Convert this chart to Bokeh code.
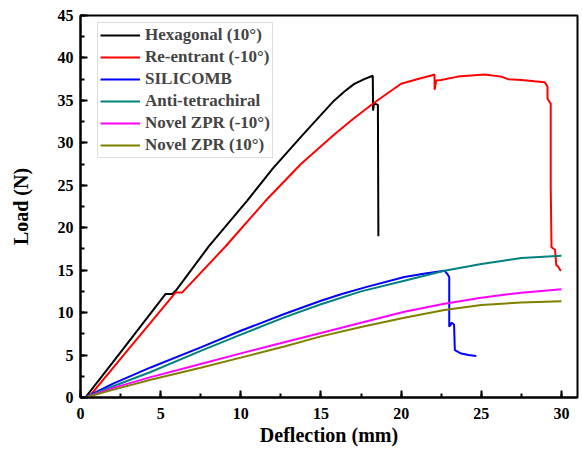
from bokeh.plotting import figure
from bokeh.models import Range1d, SingleIntervalTicker
from bokeh.embed import file_html
from bokeh.resources import INLINE

# ---- data ----
hex_x = [0.3, 2.0, 4.0, 5.31, 5.73, 5.95, 8.0, 10.4, 12.0, 13.75, 15.0, 15.83, 16.5, 17.08, 17.7, 18.23, 18.25, 18.3, 18.55, 18.58]
hex_y = [0.0, 4.1, 9.0, 12.2, 12.2, 12.6, 17.8, 23.2, 27.0, 30.7, 33.3, 35.0, 36.1, 36.95, 37.5, 37.9, 33.8, 34.6, 34.5, 19.0]

re_x = [0.5, 3.0, 5.94, 6.35, 9.0, 11.56, 13.75, 15.83, 17.0, 18.23, 19.2, 20.0, 21.0, 21.875, 22.08, 22.09, 22.19, 22.5,
        23.54, 25.2, 26.25, 26.67, 27.5, 28.33, 28.96, 29.13, 29.13, 29.33, 29.33, 29.38, 29.6, 29.65, 29.68, 29.8, 29.96]
re_y = [0.0, 5.7, 12.38, 12.38, 17.7, 23.2, 27.5, 30.98, 32.8, 34.6, 35.9, 36.96, 37.5, 37.94, 38.05, 36.25, 37.35, 37.4,
        37.8, 38.05, 37.8, 37.5, 37.4, 37.25, 37.15, 36.6, 35.2, 34.6, 24.8, 17.7, 17.4, 16.2, 15.6, 15.4, 14.9]

sil_x = [0.3, 2.0, 4.375, 7.5, 10.0, 12.71, 15.0, 16.3, 17.8, 20.2, 21.5, 22.7, 22.9, 23.0, 23.0, 23.1, 23.15, 23.3, 23.35, 23.75, 24.2, 24.69]
sil_y = [0.0, 1.6, 3.54, 5.9, 7.86, 9.83, 11.4, 12.2, 13.0, 14.2, 14.6, 14.94, 14.5, 14.2, 8.34, 8.6, 8.8, 8.6, 5.58, 5.18, 5.0, 4.9]

anti_x = [0.3, 2.0, 4.375, 7.5, 10.0, 12.71, 15.0, 17.5, 20.2, 22.7, 25.0, 27.5, 30.0]
anti_y = [0.0, 1.3, 3.0, 5.5, 7.4, 9.44, 10.98, 12.5, 13.76, 14.94, 15.73, 16.43, 16.71]

zprn_x = [0.3, 2.0, 4.375, 7.5, 10.0, 12.71, 15.0, 17.5, 20.2, 22.7, 25.0, 27.5, 30.0]
zprn_y = [0.0, 1.1, 2.4, 3.95, 5.2, 6.5, 7.6, 8.8, 10.1, 11.05, 11.75, 12.35, 12.75]

zprp_x = [0.3, 2.0, 4.375, 7.5, 10.0, 12.71, 15.0, 17.5, 20.2, 22.7, 25.0, 27.5, 30.0]
zprp_y = [0.0, 0.9, 2.1, 3.5, 4.7, 6.0, 7.2, 8.3, 9.4, 10.3, 10.9, 11.2, 11.35]

series = [
    ("Hexagonal (10°)", hex_x, hex_y, "#000000"),
    ("Re-entrant (-10°)", re_x, re_y, "#FF0000"),
    ("SILICOMB", sil_x, sil_y, "#0000FF"),
    ("Anti-tetrachiral", anti_x, anti_y, "#008080"),
    ("Novel ZPR (-10°)", zprn_x, zprn_y, "#FF00FF"),
    ("Novel ZPR (10°)", zprp_x, zprp_y, "#808000"),
]

FONT = "Liberation Serif"

p = figure(width=582, height=452, output_backend="svg", toolbar_location=None,
           x_range=Range1d(0, 31), y_range=Range1d(0, 45),
           min_border_left=80, min_border_right=5, min_border_top=15, min_border_bottom=55)

for name, xs, ys, col in series:
    p.line(xs, ys, line_color=col, line_width=2, legend_label=name)

p.grid.visible = False
p.outline_line_color = "black"
p.outline_line_width = 2

for ax in (p.xaxis[0], p.yaxis[0]):
    ax.ticker = SingleIntervalTicker(interval=5, num_minor_ticks=2)
    ax.axis_line_width = 2
    ax.major_tick_line_width = 2
    ax.minor_tick_line_width = 2
    ax.major_tick_in = 7
    ax.major_tick_out = 0
    ax.minor_tick_in = 4
    ax.minor_tick_out = 0
    ax.major_label_text_font = FONT
    ax.major_label_text_font_style = "bold"
    ax.major_label_text_font_size = "16px"
    ax.major_label_text_color = "black"
    ax.axis_label_text_font = FONT
    ax.axis_label_text_font_style = "bold"
    ax.axis_label_text_font_size = "20px"
    ax.axis_label_text_color = "black"

p.xaxis.axis_label = "Deflection (mm)"
p.yaxis.axis_label = "Load (N)"
p.xaxis.major_label_standoff = 10
p.xaxis.axis_label_standoff = 2
p.yaxis.major_label_standoff = 7
p.yaxis.axis_label_standoff = 23

lg = p.legend[0]
lg.location = (17, 239)
lg.label_text_font = FONT
lg.label_text_font_style = "bold"
lg.label_text_font_size = "17px"
lg.label_height = 20
lg.glyph_height = 20
lg.glyph_width = 40
lg.label_standoff = 5
lg.spacing = 2
lg.padding = 2
lg.margin = 0
lg.border_line_color = "#BBBBBB"
lg.border_line_width = 1
lg.background_fill_color = "white"
lg.background_fill_alpha = 1.0

open("out.html", "w").write(file_html(p, INLINE))
